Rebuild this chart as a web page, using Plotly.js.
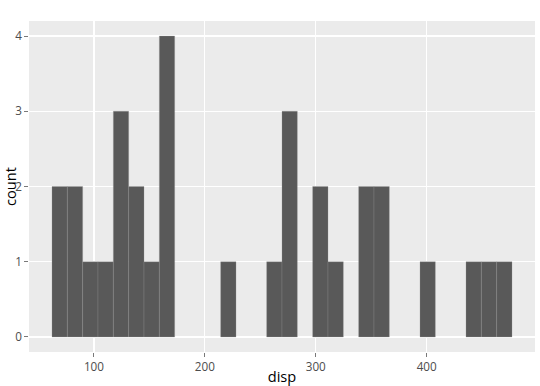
<!DOCTYPE html>
<html>
<head>
<meta charset="utf-8">
<script src="https://cdn.plot.ly/plotly-3.0.1.min.js"></script>
<style>html,body{margin:0;padding:0;background:#fff;}#chart{width:540px;height:386px;}</style>
</head>
<body>
<div id="chart"></div>
<script>
// bin centers (disp) and counts
var binCenters = [69.12, 82.94, 96.77, 110.59, 124.42, 138.24, 152.07, 165.89, 179.71, 193.54,
                  207.36, 221.19, 235.01, 248.83, 262.66, 276.48, 290.31, 304.13, 317.95, 331.78,
                  345.60, 359.43, 373.25, 387.07, 400.90, 414.72, 428.55, 442.37, 456.20, 470.02];
var counts = [2, 2, 1, 1, 3, 2, 1, 4, 0, 0,
              0, 1, 0, 0, 1, 3, 0, 2, 1, 0,
              2, 2, 0, 0, 1, 0, 0, 1, 1, 1];
var binWidth = 13.824;
var xTickVals = [100, 200, 300, 400];
var yTickVals = [0, 1, 2, 3, 4];

var widths = binCenters.map(function(){ return binWidth; });
var lineWidths = counts.map(function(c){ return c > 0 ? 0.6 : 0; });

var trace = {
  type: 'bar',
  x: binCenters,
  y: counts,
  width: widths,
  marker: {color: 'rgba(89,89,89,1)', line: {color: 'rgba(150,150,150,0.5)', width: lineWidths}},
  hoverinfo: 'x+y',
  showlegend: false
};

var layout = {
  width: 540, height: 386,
  margin: {l: 29, r: 5, t: 21, b: 34},
  paper_bgcolor: 'white',
  plot_bgcolor: 'rgba(235,235,235,1)',
  font: {family: '"Open Sans", "DejaVu Sans", sans-serif', color: 'rgba(0,0,0,1)', size: 14.6},
  bargap: 0,
  xaxis: {
    range: [41.47, 497.67],
    tickmode: 'array', tickvals: xTickVals, ticktext: xTickVals.map(String),
    ticks: 'outside', ticklen: 3.65, tickwidth: 0.66, tickcolor: 'rgba(51,51,51,1)',
    tickfont: {color: 'rgba(77,77,77,1)', size: 11.7},
    showgrid: true, gridcolor: 'rgba(255,255,255,1)', gridwidth: 1.3,
    zeroline: false, showline: false,
    title: {text: 'disp', font: {size: 14.6, color: 'rgba(0,0,0,1)'}, standoff: 5}
  },
  yaxis: {
    range: [-0.2, 4.2],
    tickmode: 'array', tickvals: yTickVals, ticktext: yTickVals.map(String),
    ticks: 'outside', ticklen: 3.65, tickwidth: 0.66, tickcolor: 'rgba(51,51,51,1)',
    tickfont: {color: 'rgba(77,77,77,1)', size: 11.7},
    showgrid: true, gridcolor: 'rgba(255,255,255,1)', gridwidth: 1.3,
    zeroline: false, showline: false,
    title: {text: 'count', font: {size: 14.6, color: 'rgba(0,0,0,1)'}, standoff: 4}
  }
};

Plotly.newPlot('chart', [trace], layout, {displayModeBar: false, staticPlot: true});
</script>
</body>
</html>
